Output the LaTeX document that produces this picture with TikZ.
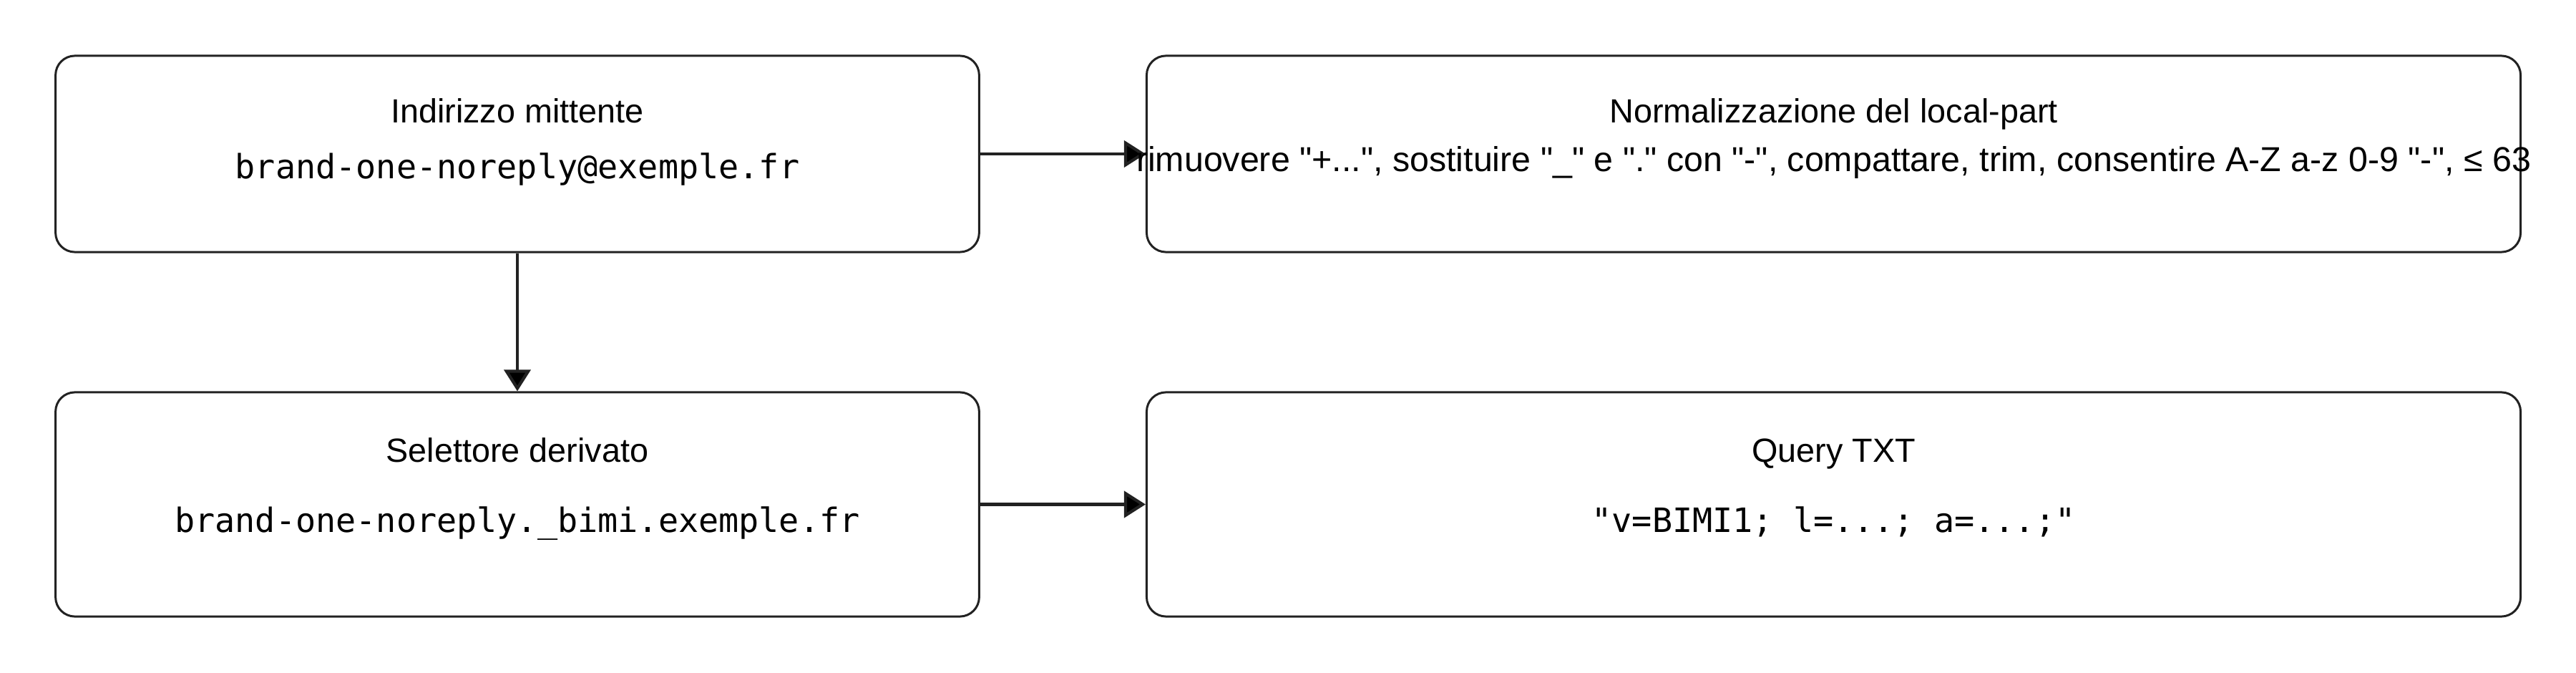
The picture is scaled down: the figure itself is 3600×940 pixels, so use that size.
\documentclass[tikz,border=0pt]{standalone}
\usepackage{fontspec}
\setmainfont{Liberation Sans}[Ligatures=TeXOff]
\setmonofont{DejaVu Sans Mono}
\usetikzlibrary{arrows.meta}
\definecolor{linec}{HTML}{222222}
\begin{document}
\begin{tikzpicture}[x=0.01cm,y=-0.01cm,
  box/.style={draw=linec, line width=0.85pt, rounded corners=0.27cm, inner sep=0pt, fill=white},
  ttl/.style={font=\fontsize{13.3pt}{16pt}\selectfont, inner sep=0pt, text=black},
  widettl/.style={font=\fontsize{13.75pt}{16pt}\selectfont, inner sep=0pt, text=black},
  monotxt/.style={font=\fontsize{13.3pt}{16pt}\selectfont\ttfamily, inner sep=0pt, text=black},
  conn/.style={draw=linec, line width=1.2pt, -{Triangle[length=0.30cm,width=0.37cm,fill=black]}}]
\useasboundingbox[fill=white] (0,0) rectangle (3600,940);
% boxes
\node[box, minimum width=12.90cm, minimum height=2.74cm] (A) at (723,215) {};
\node[box, minimum width=19.19cm, minimum height=2.74cm] (B) at (2562.5,215) {};
\node[box, minimum width=12.90cm, minimum height=3.13cm] (C) at (723,704.5) {};
\node[box, minimum width=19.19cm, minimum height=3.13cm] (D) at (2562.5,704.5) {};
% connectors
\draw[conn] (A.east) -- (B.west);
\draw[conn] (A.south) -- (C.north);
\draw[conn] (C.east) -- (D.west);
% texts
\node[ttl, anchor=base] (At) at (723,172) {Indirizzo mittente};
\node[monotxt, anchor=base] (Am) at (723,250) {brand-one-noreply@exemple.fr};
\node[ttl, anchor=base] (Bt) at (2562.5,172) {Normalizzazione del local-part};
\node[widettl, anchor=base] (Bl) at (2562.5,240) {rimuovere "+...", sostituire "\_" e "." con "-", compattare, trim, consentire A-Z a-z 0-9 "-", ≤ 63};
\node[ttl, anchor=base] (Ct) at (723,645) {Selettore derivato};
\node[monotxt, anchor=base] (Cm) at (723,743) {brand-one-noreply.\_bimi.exemple.fr};
\node[ttl, anchor=base] (Dt) at (2562.5,645) {Query TXT};
\node[monotxt, anchor=base] (Dm) at (2562.5,743) {"v=BIMI1; l=...; a=...;"};
\end{tikzpicture}
\end{document}
